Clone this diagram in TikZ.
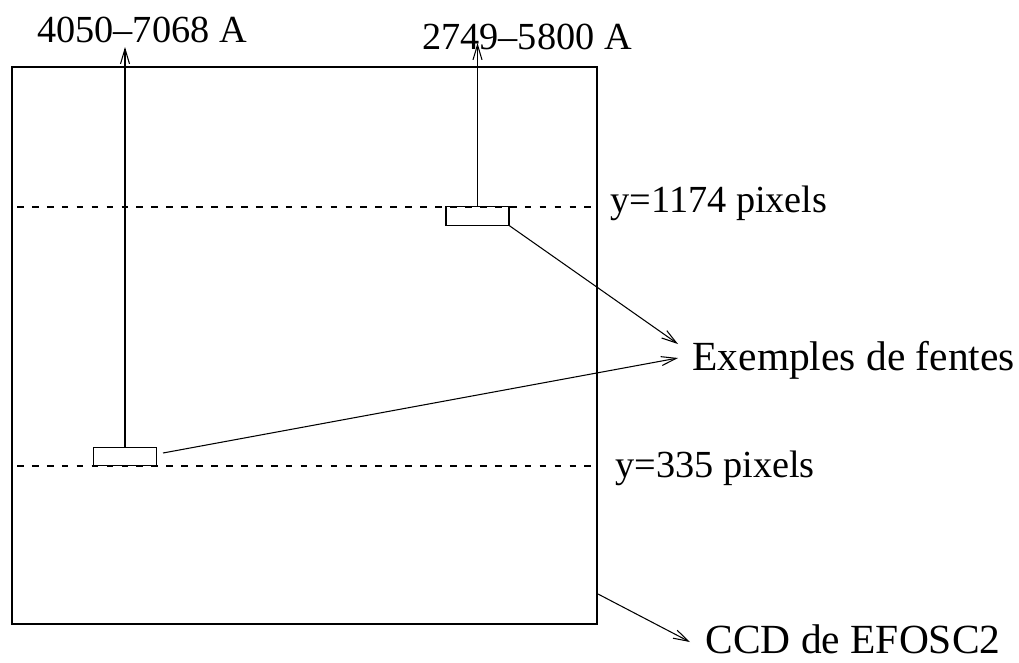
\documentclass[tikz,border=0pt]{standalone}
\usepackage{fontspec}
\setmainfont{Liberation Serif}
\usetikzlibrary{arrows.meta,positioning}

\tikzset{
  fente/.style={draw, rectangle, inner sep=0pt, minimum width=1.26cm, minimum height=0.37cm},
  etiq/.style={font=\fontsize{21.8}{24}\selectfont, inner sep=0pt},
  grand/.style={font=\fontsize{23.6}{26}\selectfont, inner sep=0pt},
  tirets/.style={dash pattern=on 3.8pt off 4.7pt}
}

\begin{document}
\begin{tikzpicture}[x=0.02cm, y=-0.02cm, line width=0.6pt, >={Straight Barb[length=3mm,width=1.8mm]}]
\useasboundingbox (0,0) rectangle (1019,663);
% le CCD
\node[draw, line width=1.2pt, inner sep=0pt, minimum width=11.7cm, minimum height=11.14cm] (ccd) at (304.5,345.5) {};
\draw[tirets] (17,207) -- (597,207);
\draw[tirets] (17,466) -- (597,466);
% les fentes
\node[fente] (f1) at (477.5,216) {};
\node[fente] (f2) at (125,456.5) {};
% textes
\node[etiq, anchor=base] (l1) at (142,42) {4050--7068 A};
\node[etiq, anchor=base] (l2) at (527,49) {2749--5800 A};
\node[etiq, anchor=base west] (y1) at (610,212) {y=1174 pixels};
\node[etiq, anchor=base west] (y2) at (615,477) {y=335 pixels};
\node[grand, anchor=base west] (ex) at (692,370) {Exemples de fentes};
\node[grand, anchor=base west] (nom) at (705,653) {CCD de EFOSC2};
\coordinate (h1) at (125,47);
\coordinate (h2) at (477.5,43);
\coordinate (p1) at (678,344);
\coordinate (p2) at (678,358);
\coordinate (p3) at (690,642);
\path[->]
(f2.north) edge (h1)
(f1.north) edge (h2)
(f1.south east) edge (p1)
([xshift=0.12cm,yshift=0.07cm]f2.east) edge (p2)
([yshift=0.62cm]ccd.south east) edge (p3);
\end{tikzpicture}
\end{document}
